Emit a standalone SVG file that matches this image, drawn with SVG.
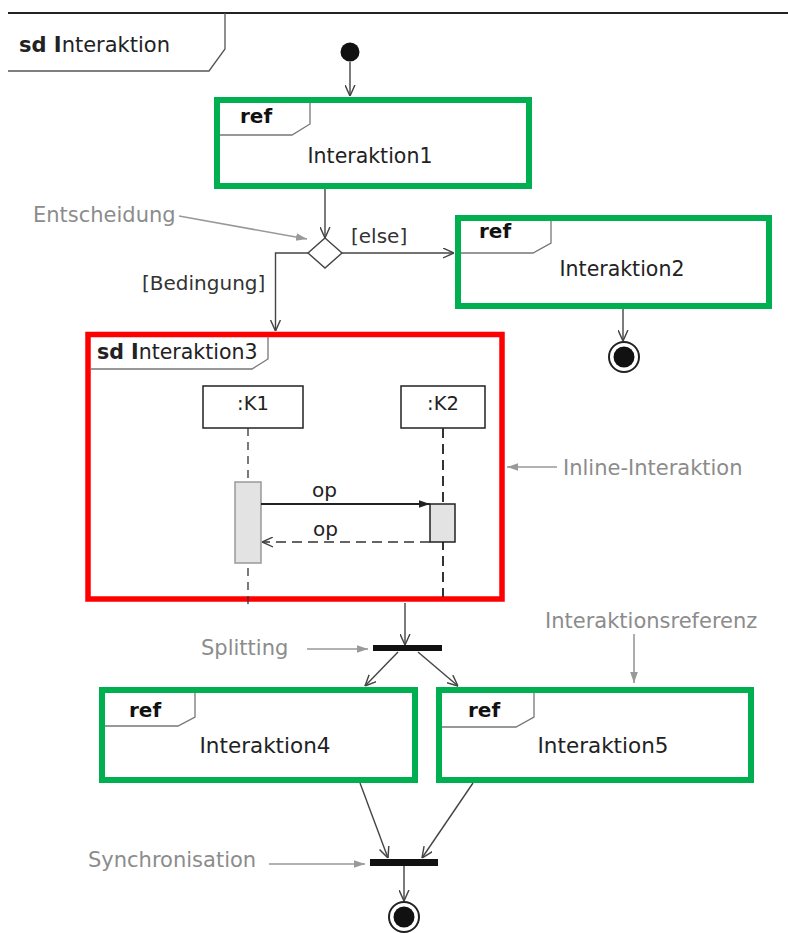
<svg xmlns="http://www.w3.org/2000/svg" width="788" height="933" viewBox="0 0 788 933">
<style>
text{font-family:"DejaVu Sans","Liberation Sans",sans-serif;fill:#222}
.lbl{font-size:21px;fill:#8c8c8c}
.guard{font-size:20px;fill:#333}
.ref{font-size:20px;font-weight:bold;fill:#111}
.name{font-size:20.5px;text-anchor:middle}
.sd{font-size:21px}
.b{font-weight:bold}
.green{fill:#fff;stroke:#00b050;stroke-width:6}
.pent{fill:none;stroke:#777;stroke-width:1.3}
.con{fill:none;stroke:#444;stroke-width:1.4;marker-end:url(#open)}
.ann{fill:none;stroke:#999;stroke-width:1.6;marker-end:url(#gray)}
.bar{fill:#111}
.life{stroke:#333;fill:none}
</style>
<defs>
<marker id="open" viewBox="0 0 10 10" refX="10" refY="5" markerWidth="11" markerHeight="11" markerUnits="userSpaceOnUse" orient="auto">
<path d="M0,0.5 L10,5 L0,9.5" fill="none" stroke="#444" stroke-width="1.3"/>
</marker>
<marker id="gray" viewBox="0 0 10 10" refX="10" refY="5" markerWidth="11" markerHeight="11" markerUnits="userSpaceOnUse" orient="auto">
<path d="M0,1.5 L10,5 L0,8.5 z" fill="#999"/>
</marker>
<marker id="solid" viewBox="0 0 10 10" refX="10" refY="5" markerWidth="11" markerHeight="11" markerUnits="userSpaceOnUse" orient="auto">
<path d="M0,1.5 L10,5 L0,8.5 z" fill="#222"/>
</marker>
</defs>

<g id="frame">
<line x1="8" y1="13" x2="788" y2="13" stroke="#222" stroke-width="2"/>
<path d="M225,13 V49 L209,71 H8" fill="none" stroke="#555" stroke-width="1.3"/>
<text class="sd" x="19" y="52"><tspan class="b">sd I</tspan>nteraktion</text>
</g>

<g id="start"><circle cx="350" cy="52" r="9.5" fill="#111"/></g>

<g id="ref1">
<rect class="green" x="217" y="100" width="312" height="86"/>
<path class="pent" d="M310,103 V124 L292,135 H220"/>
<text class="ref" x="240" y="123">ref</text>
<text class="name" x="370" y="163">Interaktion1</text>
</g>

<g id="decision"><polygon points="325,238 342,253 325,268 308,253" fill="#fff" stroke="#444" stroke-width="1.4"/></g>

<g id="ref2">
<rect class="green" x="458" y="218" width="311" height="88"/>
<path class="pent" d="M551,221 V243 L533,253 H461"/>
<text class="ref" x="479" y="238">ref</text>
<text class="name" x="622" y="276">Interaktion2</text>
</g>

<g id="final1">
<circle cx="624" cy="357" r="15" fill="#fff" stroke="#222" stroke-width="2"/>
<circle cx="624" cy="357" r="10.5" fill="#111"/>
</g>

<g id="inline3">
<rect x="88" y="334.5" width="414" height="264.5" fill="#fff" stroke="#ff0000" stroke-width="5.5"/>
<path class="pent" d="M268,337 V359 L252,369 H91"/>
<text class="sd" x="97" y="359" style="font-size:20.5px"><tspan class="b">sd I</tspan>nteraktion3</text>
<g id="k1">
<rect x="203" y="386" width="100" height="42" fill="#fff" stroke="#222" stroke-width="1.5"/>
<text x="253" y="410" text-anchor="middle" style="font-size:19.5px">:K1</text>
<line class="life" x1="248" y1="428" x2="248" y2="604" stroke-width="1.3" stroke-dasharray="8 6"/>
<rect x="235" y="482" width="26" height="81" fill="#e3e3e3" stroke="#999" stroke-width="1.5"/>
</g>
<g id="k2">
<rect x="401" y="386" width="84" height="42" fill="#fff" stroke="#222" stroke-width="1.5"/>
<text x="443" y="410" text-anchor="middle" style="font-size:19.5px">:K2</text>
<line class="life" x1="443" y1="428" x2="443" y2="597" stroke-width="2" stroke-dasharray="10 6"/>
<rect x="430" y="504" width="25" height="38" fill="#e3e3e3" stroke="#222" stroke-width="1.5"/>
</g>
<g id="messages">
<line x1="261" y1="504" x2="430" y2="504" stroke="#222" stroke-width="1.8" marker-end="url(#solid)"/>
<text x="312" y="497" style="font-size:20px">op</text>
<line x1="430" y1="542" x2="262" y2="542" stroke="#333" stroke-width="1.4" stroke-dasharray="10 6" marker-end="url(#open)"/>
<text x="313" y="536" style="font-size:20px">op</text>
</g>
</g>

<g id="fork"><rect class="bar" x="373" y="645" width="69" height="6"/></g>

<g id="ref4">
<rect class="green" x="102" y="690" width="313" height="90"/>
<path class="pent" d="M195,693 V717 L178,726 H105"/>
<text class="ref" x="129" y="717">ref</text>
<text class="name" x="265" y="753" style="font-size:21.5px">Interaktion4</text>
</g>

<g id="ref5">
<rect class="green" x="439" y="690" width="312" height="90"/>
<path class="pent" d="M534,693 V717 L516,727 H442"/>
<text class="ref" x="468" y="717">ref</text>
<text class="name" x="603" y="753" style="font-size:21.5px">Interaktion5</text>
</g>

<g id="join"><rect class="bar" x="370" y="859" width="68" height="7"/></g>

<g id="final2">
<circle cx="404" cy="917" r="15" fill="#fff" stroke="#222" stroke-width="2"/>
<circle cx="404" cy="917" r="10.5" fill="#111"/>
</g>

<g id="connectors">
<line class="con" x1="350" y1="62" x2="350" y2="96"/>
<line class="con" x1="325" y1="189" x2="325" y2="238"/>
<line class="con" x1="342" y1="253" x2="454" y2="253"/>
<polyline class="con" points="308,253 275.5,253 275.5,331"/>
<line class="con" x1="623" y1="309" x2="623" y2="341"/>
<line class="con" x1="405" y1="603" x2="405" y2="645"/>
<line class="con" x1="398" y1="652" x2="365" y2="686"/>
<line class="con" x1="418" y1="652" x2="458" y2="686"/>
<line class="con" x1="360" y1="783" x2="388" y2="858"/>
<line class="con" x1="473" y1="783" x2="422" y2="858"/>
<line class="con" x1="404" y1="866" x2="404" y2="901"/>
<text class="guard" x="351" y="243">[else]</text>
<text class="guard" x="142" y="290">[Bedingung]</text>
</g>

<g id="annotations">
<text class="lbl" x="33" y="222">Entscheidung</text>
<line class="ann" x1="179" y1="216" x2="307" y2="239"/>
<text class="lbl" x="563" y="475">Inline-Interaktion</text>
<line class="ann" x1="557" y1="467" x2="507" y2="467"/>
<text class="lbl" x="201" y="655">Splitting</text>
<line class="ann" x1="307" y1="649" x2="368" y2="649"/>
<text class="lbl" x="545" y="628">Interaktionsreferenz</text>
<line class="ann" x1="634" y1="634" x2="634" y2="683"/>
<text class="lbl" x="88" y="867">Synchronisation</text>
<line class="ann" x1="269" y1="864" x2="365" y2="864"/>
</g>
</svg>
